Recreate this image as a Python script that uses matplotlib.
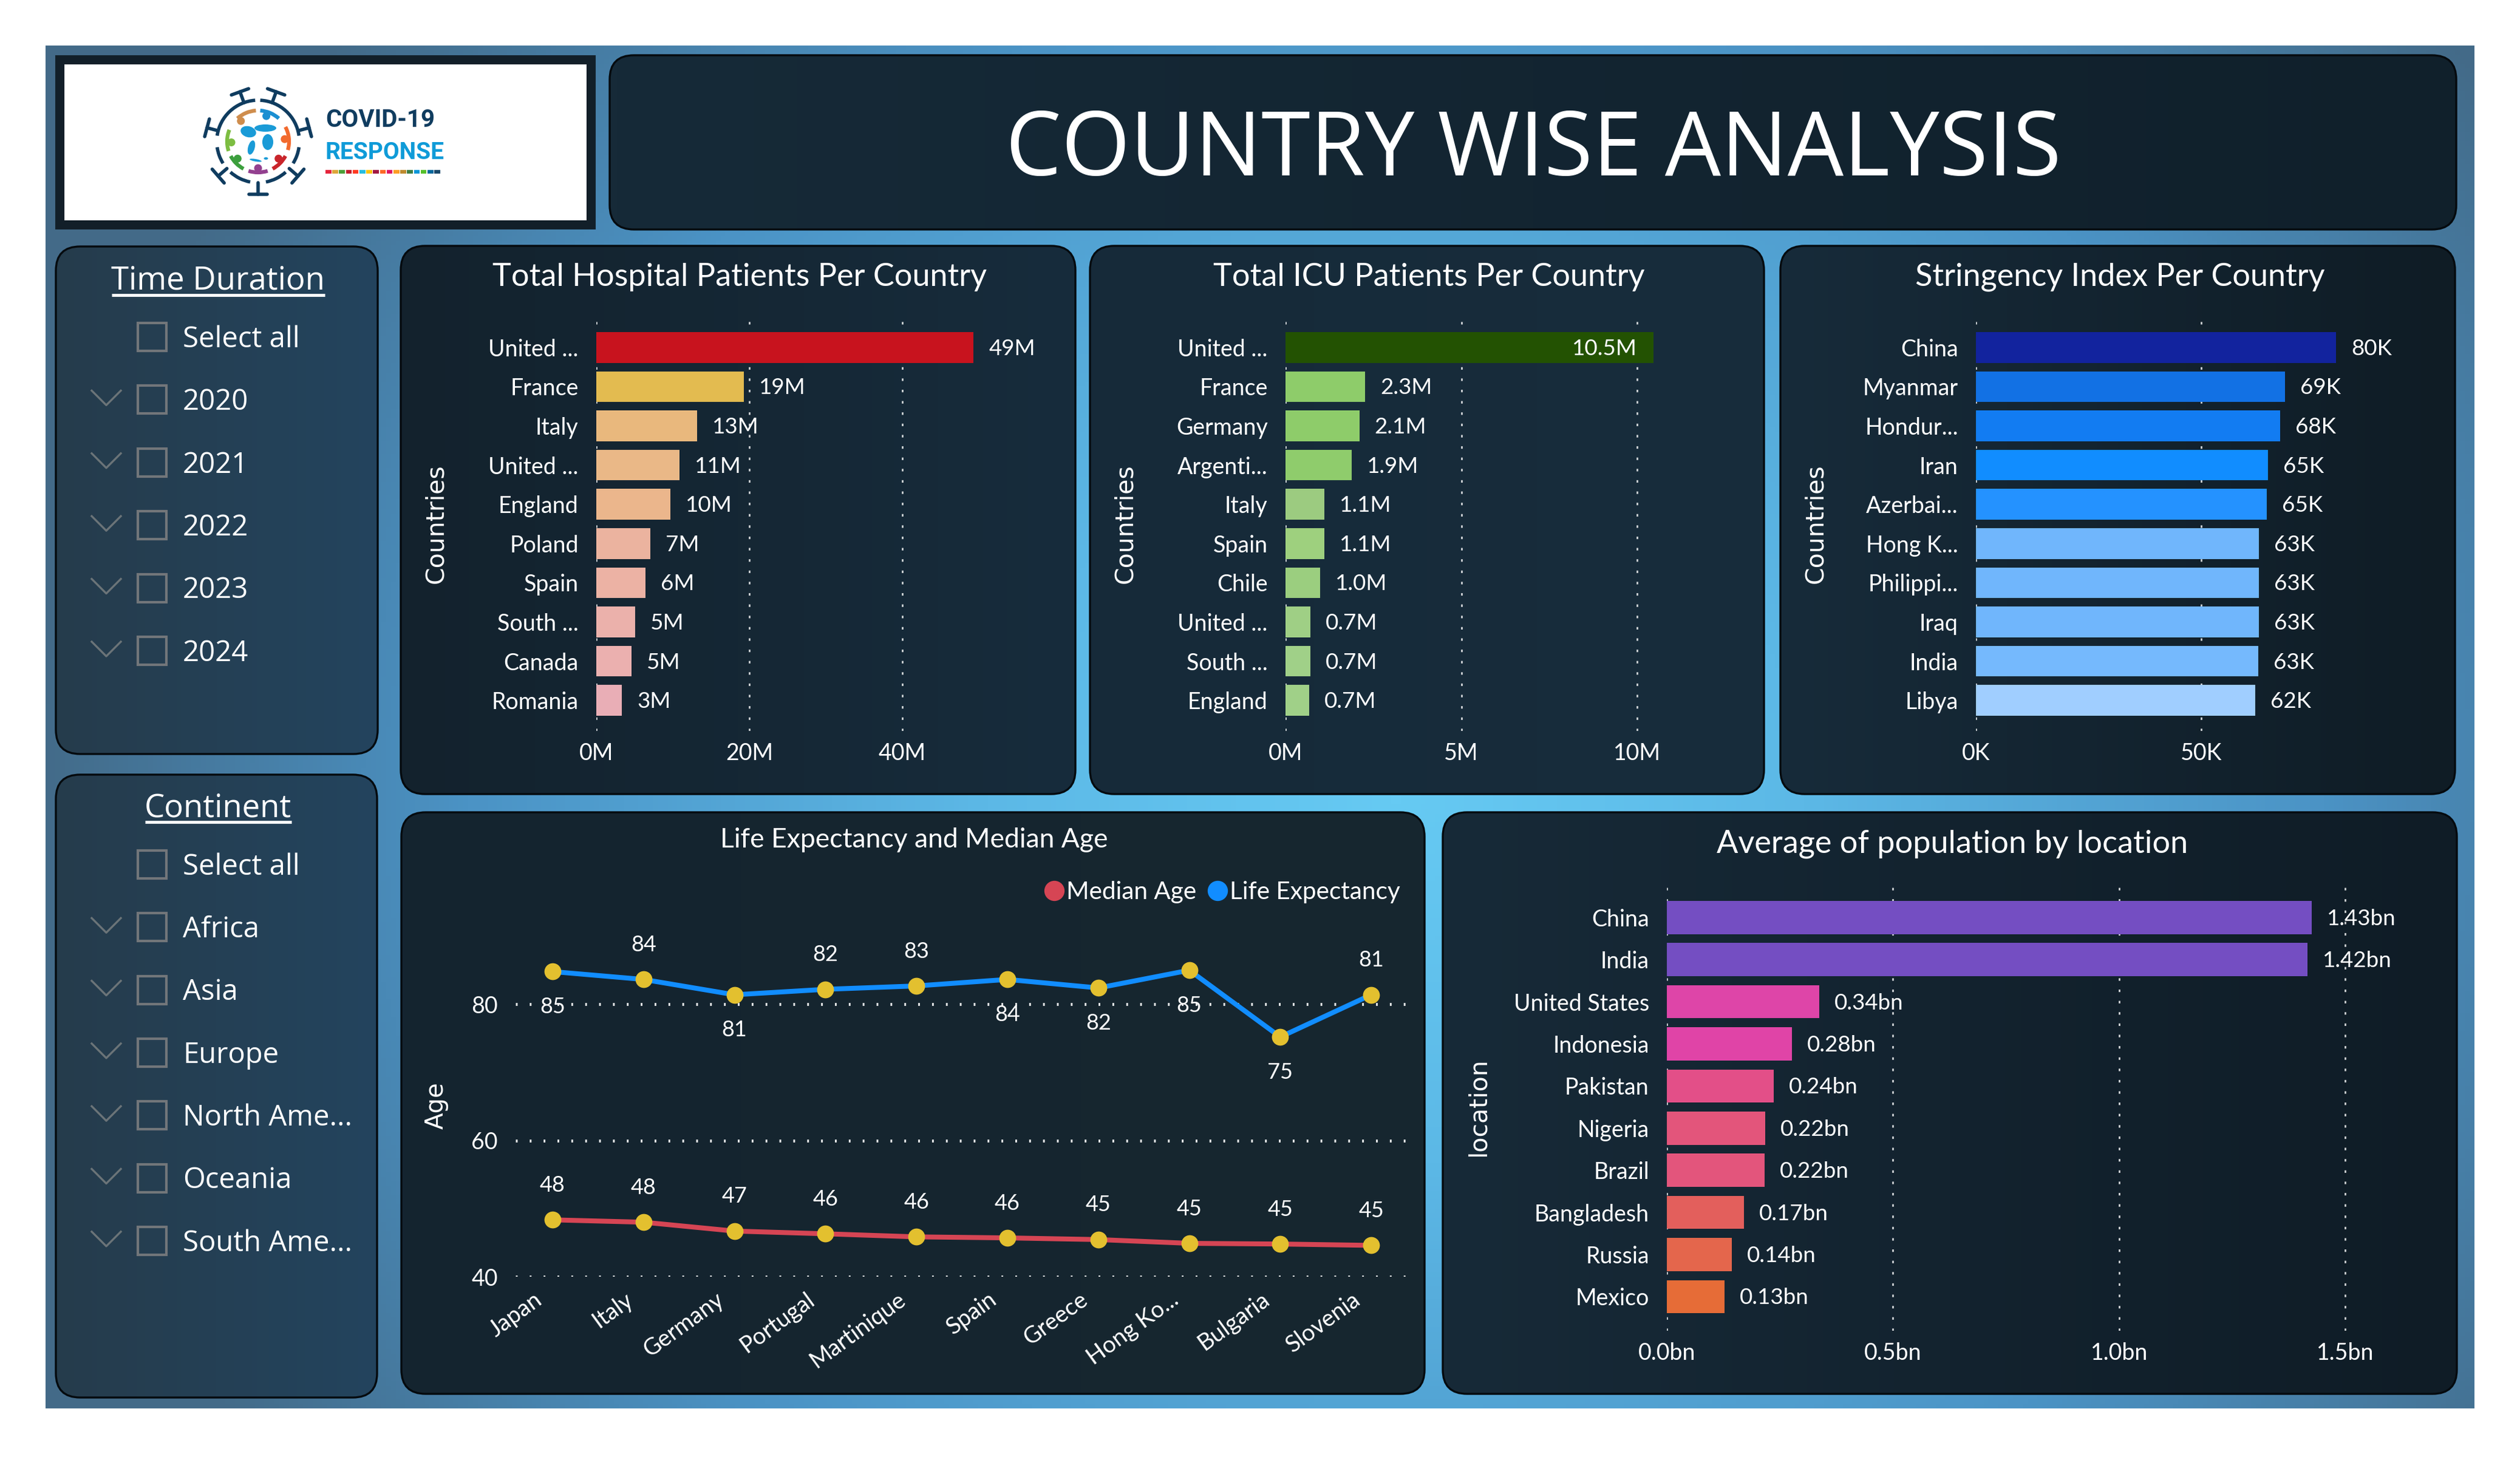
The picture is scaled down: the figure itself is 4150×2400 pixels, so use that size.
import matplotlib
matplotlib.use("Agg")
import matplotlib.pyplot as plt
import numpy as np
from matplotlib.colors import LinearSegmentedColormap
from matplotlib.lines import Line2D
from matplotlib.patches import Arc, Circle, Ellipse, FancyBboxPatch, Rectangle
from matplotlib.ticker import FuncFormatter
from matplotlib.transforms import ScaledTranslation

# Values
hospital_names = ["United ...", "France", "Italy", "United ...", "England", "Poland", "Spain", "South ...", "Canada", "Romania"]
hospital_values = [49.3, 19.3, 13.2, 10.9, 9.7, 7.05, 6.4, 5.06, 4.6, 3.36]
hospital_colors = ["#c8131e", "#e3bb50", "#e9b87d", "#eab887", "#ebb68c", "#ebb39f", "#ecb2a4", "#ebb1ab", "#ebb0af", "#e9aeb6"]

icu_names = ["United ...", "France", "Germany", "Argenti...", "Italy", "Spain", "Chile", "United ...", "South ...", "England"]
icu_values = [10.46, 2.26, 2.1, 1.89, 1.11, 1.1, 0.99, 0.7, 0.7, 0.67]
icu_colors = ["#235202", "#8ecc6a", "#8ecc6a", "#8fcc6c", "#9ccb80", "#9ed07e", "#9bce7f", "#9fcf85", "#a0d088", "#a0d088"]

stringency_names = ["China", "Myanmar", "Hondur...", "Iran", "Azerbai...", "Hong K...", "Philippi...", "Iraq", "India", "Libya"]
stringency_values = [80, 68.6, 67.5, 64.8, 64.6, 62.9, 62.9, 62.9, 62.7, 62.0]
stringency_colors = ["#12239e", "#1271e4", "#127cf2", "#118dff", "#2492ff", "#70b6fc", "#70b6fc", "#70b6fc", "#75b9fd", "#a0ceff"]

population_names = ["China", "India", "United States", "Indonesia", "Pakistan", "Nigeria", "Brazil", "Bangladesh", "Russia", "Mexico"]
population_values = [1.426, 1.417, 0.337, 0.276, 0.236, 0.218, 0.216, 0.171, 0.144, 0.128]
population_colors = ["#744ec2", "#744ec2", "#de45a8", "#e044a7", "#e34f88", "#e3557b", "#e3557c", "#e35f5c", "#e4664c", "#e66c37"]

life_names = ["Japan", "Italy", "Germany", "Portugal", "Martinique", "Spain", "Greece", "Hong Ko...", "Bulgaria", "Slovenia"]
life_expectancy = [84.8, 83.65, 81.4, 82.2, 82.7, 83.65, 82.4, 85.0, 75.2, 81.4]
median_age = [48.35, 48.0, 46.7, 46.3, 45.85, 45.7, 45.45, 44.9, 44.8, 44.6]
life_label_above = [False, True, False, True, True, False, False, False, False, True]

time_options = ["Select all", "2020", "2021", "2022", "2023", "2024"]
continent_options = ["Select all", "Africa", "Asia", "Europe", "North Ame...", "Oceania", "South Ame..."]

logo_strip = ["#e5243b", "#dda63a", "#4c9f38", "#c5192d", "#ff3a21", "#26bde2", "#fcc30b", "#a21942", "#fd6925",
              "#dd1367", "#fd9d24", "#bf8b2e", "#3f7e44", "#0a97d9", "#56c02b", "#00689d", "#19486a"]

plt.rcParams["font.family"] = ["Lato", "DejaVu Sans"]
WHITE = "white"
TEXT_SIZE = 26.5

fig = plt.figure(figsize=(41.5, 24), dpi=100, facecolor="white")

# full figure axes in pixel coordinates, for the dashboard furniture
bg = fig.add_axes([0, 0, 1, 1], zorder=0)
bg.set_axis_off()


def px_axes(x0, y0, x1, y1):
    ax = fig.add_axes([x0 / 4150, 1 - y1 / 2400, (x1 - x0) / 4150, (y1 - y0) / 2400], zorder=2)
    ax.patch.set_alpha(0)
    for s in ax.spines.values():
        s.set_visible(False)
    return ax


def panel(x0, y0, x1, y1, left, right, radius=40, edge="#050a0e"):
    cmap = LinearSegmentedColormap.from_list("p", [left, right])
    grad = np.linspace(0, 1, 256).reshape(1, -1)
    im = bg.imshow(grad, cmap=cmap, extent=[x0, x1, y1, y0], aspect="auto", zorder=2)
    box = FancyBboxPatch((x0, y0), x1 - x0, y1 - y0, boxstyle=f"round,pad=0,rounding_size={radius}",
                         fc="none", ec=edge, lw=2.4, zorder=3)
    bg.add_patch(box)
    im.set_clip_path(box)


# radial backdrop
yy, xx = np.mgrid[75:2320:300j, 75:4075:500j]
dist = np.sqrt(((xx - 2300) / 2250) ** 2 + ((yy - 1320) / 2000) ** 2)
back_map = LinearSegmentedColormap.from_list("back", [(0, "#66caf3"), (0.3, "#5cb8e6"), (0.68, "#4b93c5"), (1, "#436a88")])
bg.imshow(dist, cmap=back_map, vmin=0, vmax=1, extent=[75, 4075, 2320, 75], aspect="auto", zorder=1)

# logo panel
bg.add_patch(Rectangle((91, 91), 890, 287, fc="#121f29", ec="none", zorder=2))
bg.add_patch(Rectangle((106, 106), 860, 257, fc="white", ec="none", zorder=3))

cx, cy = 425, 233
navy = "#0f3c5f"
spikes = [270, 319, 221, 15, 165, 70, 110]
for a in spikes:
    t = np.deg2rad(a)
    u = np.array([np.cos(t), -np.sin(t)])
    v = np.array([-u[1], u[0]])
    p0 = np.array([cx, cy]) + u * 68
    p1 = np.array([cx, cy]) + u * 87
    bg.plot([p0[0], p1[0]], [p0[1], p1[1]], color=navy, lw=4, solid_capstyle="round", zorder=4)
    bg.plot([p1[0] - v[0] * 15, p1[0] + v[0] * 15], [p1[1] - v[1] * 15, p1[1] + v[1] * 15],
            color=navy, lw=4, solid_capstyle="round", zorder=4)
# y axis is flipped here, so arc angles run clockwise
for start, end in [(-87, -8), (8, 32), (48, 79), (101, 132), (148, 172), (188, 266)]:
    bg.add_patch(Arc((cx, cy), 136, 136, theta1=start, theta2=end, color=navy, lw=4, zorder=4))
people = [(-72, "#1b8fd2", -86, -48), (-130, "#cf8d4d", -132, -94), (-5, "#f26a2e", -28, 16), (40, "#c9252b", 28, 62),
          (90, "#93408f", 72, 108), (140, "#3c9f3d", 118, 152), (178, "#7dbd42", 162, 202)]
for ang, col, start, end in people:
    bg.add_patch(Arc((cx, cy), 102, 102, theta1=start, theta2=end, color=col, lw=4.5, zorder=4))
    t = np.deg2rad(ang)
    bg.add_patch(Circle((cx + 44 * np.cos(t), cy + 44 * np.sin(t)), 6.5, fc=col, ec="none", zorder=4))
for ex, ey, ew, eh, rot in [(cx - 16, cy - 16, 26, 18, 15), (cx + 12, cy - 22, 36, 12, 0), (cx + 16, cy + 1, 18, 26, 0),
                            (cx - 11, cy + 10, 11, 24, 15), (cx - 4, cy + 31, 20, 4, 10), (cx + 13, cy + 28, 7, 4, 0)]:
    bg.add_patch(Ellipse((ex, ey), ew, eh, angle=rot, fc="#1a9bd7", ec="none", zorder=4))
bg.text(536, 198, "COVID-19", family=["Liberation Sans Narrow", "Roboto"], weight="bold", size=29, color=navy,
        ha="left", va="center", zorder=5)
bg.text(536, 252, "RESPONSE", family=["Liberation Sans Narrow", "Roboto"], weight="bold", size=28, color="#0f9bd8",
        ha="left", va="center", zorder=5)
for i, col in enumerate(logo_strip):
    bg.add_patch(Rectangle((536 + i * 11.2, 280), 9.6, 5.5, fc=col, ec="none", zorder=5))

# title panel
panel(1004, 91, 4045, 378, "#162a38", "#10202b")
bg.text(2525, 251, "COUNTRY WISE ANALYSIS", family=["Open Sans", "DejaVu Sans"], size=105, color=WHITE,
        ha="center", va="center", zorder=5)

# slicers
panel(92, 406, 622, 1242, "#263c4c", "#23445e")
panel(92, 1276, 621, 2302, "#263c4c", "#23445e")


def slicer(title, options, title_y, first_box, step, under_y, ux0, ux1):
    bg.text(359, title_y, title, size=38, color=WHITE, ha="center", va="center", zorder=5,
            family=["Open Sans", "DejaVu Sans"])
    bg.plot([ux0, ux1], [under_y, under_y], color=WHITE, lw=3.6, zorder=5, solid_capstyle="butt")
    for i, name in enumerate(options):
        top = first_box + i * step
        bg.add_patch(Rectangle((227, top), 47, 46, fc="none", ec="#72767a", lw=3, zorder=5))
        mid = top + 23
        bg.text(301, mid + 4, name, size=34, color=WHITE, ha="left", va="center", zorder=5,
                family=["Open Sans", "DejaVu Sans"])
        if i > 0:
            bg.plot([151, 175, 199], [mid - 15, mid + 9, mid - 15], color="#6b7478", lw=2.4, zorder=5)


slicer("Time Duration", time_options, 463, 532, 103.4, 486, 184, 535)
slicer("Continent", continent_options, 1332, 1401, 103.3, 1354, 239, 480)

# chart panels
panel(660, 405, 1771, 1308, "#13222d", "#172c3c")
panel(1795, 405, 2905, 1308, "#162a39", "#182d3c")
panel(2932, 405, 4043, 1308, "#172b3a", "#0f1c25")
panel(661, 1338, 2346, 2296, "#142430", "#17272f")
panel(2376, 1338, 4046, 2296, "#172a38", "#0f1c26")


def bar_chart(box, scale, names, values, colors, ticks, fmt, bar_top, bar_step, bar_h,
              title, title_xy, ylabel, ylabel_xy, inside_first=False):
    x0, y0, x1, y1 = box
    ax = px_axes(x0, y0, x1, y1)
    pos = np.arange(len(names))
    ax.barh(pos, values, height=bar_h / bar_step, color=colors, zorder=3)
    ax.set_xlim(0, (x1 - x0) / scale)
    first_center = bar_top + bar_h / 2
    ax.set_ylim((y1 - first_center) / bar_step, (y0 - first_center) / bar_step)
    ax.set_xticks(ticks)
    ax.xaxis.set_major_formatter(FuncFormatter(lambda v, p: fmt(v, True)))
    ax.set_yticks(pos)
    ax.set_yticklabels(names)
    ax.tick_params(axis="both", length=0, colors=WHITE, labelsize=27)
    ax.tick_params(axis="y", pad=21)
    ax.tick_params(axis="x", pad=14)
    ax.grid(axis="x", color=WHITE, alpha=0.8, lw=2, linestyle=(0, (1.5, 5.2)), zorder=1)
    ax.set_axisbelow(True)
    for i, v in enumerate(values):
        if inside_first and i == 0:
            ax.annotate(fmt(v, False), (10, i), xytext=(0, -1.5), textcoords="offset points",
                        color=WHITE, size=TEXT_SIZE, ha="right", va="center", zorder=4)
        else:
            ax.annotate(fmt(v, False), (v, i), xytext=(18, -1.5), textcoords="offset points",
                        color=WHITE, size=TEXT_SIZE, ha="left", va="center", zorder=4)
    bg.text(title_xy[0], title_xy[1], title, size=37.6, color=WHITE, ha="center", va="center", zorder=5)
    bg.text(ylabel_xy[0], ylabel_xy[1], ylabel, size=29.5, color=WHITE, rotation=90, ha="center", va="center",
            zorder=5, family="DejaVu Sans")
    return ax


bar_chart((982, 527, 1700, 1204), 12.6, hospital_names, hospital_values, hospital_colors, [0, 20, 40],
          lambda v, tick: f"{v:.0f}M", 547, 64.6, 50.5,
          "Total Hospital Patients Per Country", (1218, 456), "Countries", (718, 863))
bar_chart((2117, 527, 2840, 1204), 57.9, icu_names, icu_values, icu_colors, [0, 5, 10],
          lambda v, tick: f"{v:.0f}M" if tick else f"{v:.1f}M", 547, 64.6, 50.5,
          "Total ICU Patients Per Country", (2353, 456), "Countries", (1853, 863), inside_first=True)
bar_chart((3254, 527, 3990, 1204), 7.416, stringency_names, stringency_values, stringency_colors, [0, 50],
          lambda v, tick: f"{v:.0f}K", 547, 64.6, 50.5,
          "Stringency Index Per Country", (3491, 456), "Countries", (2990, 863))
bar_chart((2745, 1458, 3990, 2192), 744.7, population_names, population_values, population_colors, [0, 0.5, 1.0, 1.5],
          lambda v, tick: f"{v:.1f}bn" if tick else f"{v:.2f}bn", 1484, 69.4, 54.6,
          "Average of population by location", (3215, 1390), "location", (2435, 1824))

# line chart
ax = px_axes(849, 1560, 2318, 2103)
pos = np.arange(len(life_names))
ax.plot(pos, median_age, color="#d64554", lw=5.8, marker="o", ms=19, mfc="#e3c02f", mec="#e3c02f", zorder=3)
ax.plot(pos, life_expectancy, color="#118dff", lw=5.8, marker="o", ms=19, mfc="#e3c02f", mec="#e3c02f", zorder=3)
ax.set_xlim((849 - 910) / 149.8, (2318 - 910) / 149.8)
ax.set_ylim(40, 80 + (1654.4 - 1560) / 11.23)
ax.set_yticks([40, 60, 80])
ax.set_xticks(pos)
ax.set_xticklabels(life_names, rotation=36, ha="right", va="top", rotation_mode="anchor")
ax.tick_params(axis="both", length=0, colors=WHITE, labelsize=27.5)
ax.tick_params(axis="y", pad=21, labelsize=27)
ax.tick_params(axis="x", pad=14)
shift = ScaledTranslation(-32 / 100, 0, fig.dpi_scale_trans)
for lab in ax.get_xticklabels():
    lab.set_transform(lab.get_transform() + shift)
ax.grid(axis="y", color=WHITE, alpha=0.9, lw=3.5, linestyle=(0, (0.6, 4.1)), zorder=1)
ax.set_axisbelow(True)
for i, v in enumerate(life_expectancy):
    off = 41 if life_label_above[i] else -42
    ax.annotate(f"{v:.0f}", (i, v), xytext=(0, off), textcoords="offset points", color=WHITE,
                size=26, ha="center", va="center", zorder=4)
for i, v in enumerate(median_age):
    ax.annotate(f"{v:.0f}", (i, v), xytext=(0, 41), textcoords="offset points", color=WHITE,
                size=26, ha="center", va="center", zorder=4)
handles = [Line2D([], [], ls="", marker="o", ms=23, color="#d64554", label="Median Age"),
           Line2D([], [], ls="", marker="o", ms=23, color="#118dff", label="Life Expectancy")]
ax.legend(handles=handles, loc="center right", bbox_to_anchor=(2306, 1470), bbox_transform=bg.transData, ncol=2,
          frameon=False, fontsize=29.2, labelcolor=WHITE, handlelength=0.8, handletextpad=0.1,
          columnspacing=0.45, borderpad=0, borderaxespad=0)
bg.text(1505, 1383, "Life Expectancy and Median Age", size=32, color=WHITE, ha="center", va="center", zorder=5)
bg.text(719, 1821, "Age", size=29, color=WHITE, rotation=90, ha="center", va="center", zorder=5, family="DejaVu Sans")

bg.set_xlim(0, 4150)
bg.set_ylim(2400, 0)

fig.savefig("out.png", dpi=100, facecolor="white")
